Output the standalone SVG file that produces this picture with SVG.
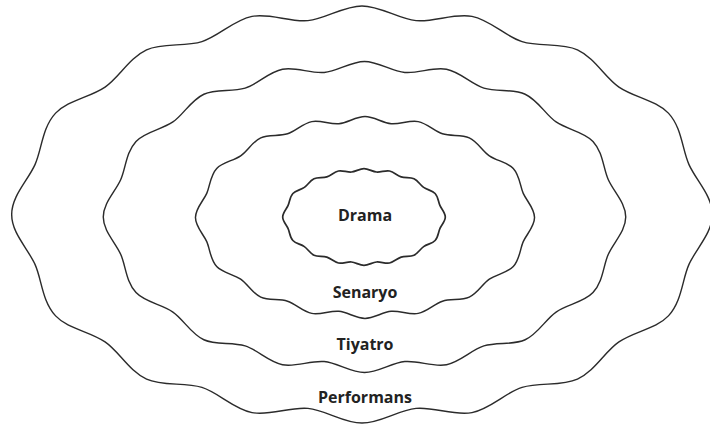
<svg xmlns="http://www.w3.org/2000/svg" xmlns:xlink="http://www.w3.org/1999/xlink" width="710" height="428" viewBox="0 0 710 428">
<style>
.ring{fill:none;stroke:#2b2b2b;stroke-linejoin:round}
.lbl{font-family:"Open Sans","Liberation Sans",sans-serif;font-weight:bold;font-size:16px;fill:#222;text-anchor:middle}
</style>
<defs>
<path id="wave" d="M173,0
C173,9.172 165.154,16.568 161.478,24.638
C158.121,32.008 158.012,42.868 151.312,50.066
C145.365,56.455 134.589,57.703 126.886,62.941
C119.956,67.654 115.029,77.309 106.39,81.308
C98.375,85.018 87.787,82.651 79.044,85.391
C70.749,87.991 63.434,96.029 54.294,97.82
C45.477,99.547 35.669,94.898 26.694,95.746
C17.874,96.58 9.123,103 0,103
C-9.123,103 -17.874,96.58 -26.694,95.746
C-35.669,94.898 -45.477,99.547 -54.294,97.82
C-63.434,96.029 -70.749,87.991 -79.044,85.391
C-87.787,82.651 -98.375,85.018 -106.39,81.308
C-115.029,77.309 -119.956,67.654 -126.886,62.941
C-134.589,57.703 -145.365,56.455 -151.312,50.066
C-158.012,42.868 -158.121,32.008 -161.478,24.638
C-165.154,16.568 -173,9.172 -173,0
C-173,-9.172 -165.154,-16.568 -161.478,-24.638
C-158.121,-32.008 -158.012,-42.868 -151.312,-50.066
C-145.365,-56.455 -134.589,-57.703 -126.886,-62.941
C-119.956,-67.654 -115.029,-77.309 -106.39,-81.308
C-98.375,-85.018 -87.787,-82.651 -79.044,-85.391
C-70.749,-87.991 -63.434,-96.029 -54.294,-97.82
C-45.477,-99.547 -35.669,-94.898 -26.694,-95.746
C-17.874,-96.58 -9.123,-103 0,-103
C9.123,-103 17.874,-96.58 26.694,-95.746
C35.669,-94.898 45.477,-99.547 54.294,-97.82
C63.434,-96.029 70.749,-87.991 79.044,-85.391
C87.787,-82.651 98.375,-85.018 106.39,-81.308
C115.029,-77.309 119.956,-67.654 126.886,-62.941
C134.589,-57.703 145.365,-56.455 151.312,-50.066
C158.012,-42.868 158.121,-32.008 161.478,-24.638
C165.154,-16.568 173,-9.172 173,0 Z"/>
</defs>
<g id="performans">
<use xlink:href="#wave" href="#wave" class="ring" stroke-width="0.7" transform="translate(362,214.5) scale(2.025)"/>
<text class="lbl" x="365" y="403">Performans</text>
</g>
<g id="tiyatro">
<use xlink:href="#wave" href="#wave" class="ring" stroke-width="0.95" transform="translate(364.5,217) scale(1.51)"/>
<text class="lbl" x="365" y="350">Tiyatro</text>
</g>
<g id="senaryo">
<use xlink:href="#wave" href="#wave" class="ring" stroke-width="1.5" transform="translate(365,217.5) scale(0.98)"/>
<text class="lbl" x="365" y="298">Senaryo</text>
</g>
<g id="drama">
<use xlink:href="#wave" href="#wave" class="ring" stroke-width="3.6" transform="translate(364,217) scale(0.47)"/>
<text class="lbl" x="365" y="221">Drama</text>
</g>
<g id="connectors"/>
</svg>
